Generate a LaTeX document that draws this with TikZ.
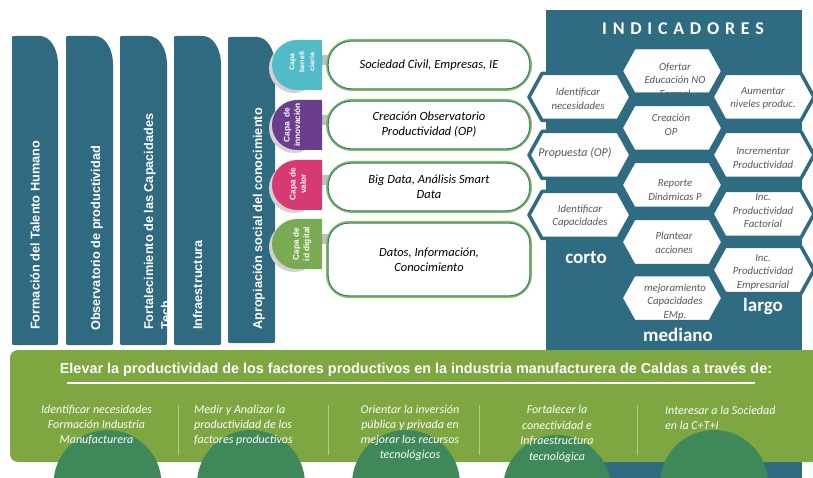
\documentclass[tikz,border=0pt]{standalone}
\usepackage{fontspec}
\setmainfont{Carlito}
\newfontfamily\arialf{Liberation Sans}
\newfontfamily\spacedf{Carlito}[LetterSpace=32]
\usetikzlibrary{calc}
\definecolor{pil}{RGB}{47,106,128}
\definecolor{pan}{RGB}{47,108,130}
\definecolor{grn}{RGB}{126,167,66}
\definecolor{dome}{RGB}{62,136,89}
\definecolor{tcyan}{RGB}{82,187,200}
\definecolor{tpurp}{RGB}{106,62,140}
\definecolor{tpink}{RGB}{215,58,115}
\definecolor{tgrn}{RGB}{122,170,82}
\definecolor{bgrn}{RGB}{141,186,72}
\definecolor{bblue}{RGB}{46,122,150}
\definecolor{hext}{RGB}{88,88,88}
\definecolor{sepc}{RGB}{178,206,132}
\newcommand\pillarshape[4]{\fill[pil] (#1,{#4-4}) -- (#1,{#3+4}) .. controls (#1,#3) .. ({#1+4},#3) -- ({#2-18},#3) .. controls ({#2-8},#3) and (#2,{#3+13}) .. (#2,{#3+28}) -- (#2,{#4-4}) .. controls (#2,#4) .. ({#2-4},#4) -- ({#1+4},#4) .. controls (#1,#4) .. (#1,{#4-4}) -- cycle;}
\newcommand\hexpath[3]{\path[#3] ({#1-51},#2) -- ({#1-38},{#2-23.5}) -- ({#1+38},{#2-23.5}) -- ({#1+51},#2) -- ({#1+38},{#2+23.5}) -- ({#1-38},{#2+23.5}) -- cycle;}
\newcommand\captab[2]{%
  \fill[gray!35] (294,{#2+28}) circle[radius=25pt];
  \fill[gray!50] (318,{#2+15}) rectangle (331,{#2+25});
  \fill[#1] (322,#2) -- (297,#2) arc[start angle=90,end angle=270,radius=25pt] -- (322,{#2+50}) -- cycle;}
\begin{document}
\begin{tikzpicture}[x=1pt,y=-1pt,
  pilltxt/.style={rotate=90, anchor=base west, inner sep=0, text=white, font=\arialf\bfseries\fontsize{12.7}{15}\selectfont},
  tabtxt/.style={rotate=90, text=white, align=center, inner sep=0, font=\arialf\bfseries\fontsize{8.3}{10.5}\selectfont},
  boxs/.style={draw=bgrn, line width=2pt, fill=white, rounded corners=25pt, minimum width=204pt, minimum height=50pt, align=center, inner sep=0, font=\itshape\fontsize{12.5}{15}\selectfont},
  hexs/.style={fill=white, draw=pan, line width=3.5pt, line join=round},
  hexline/.style={draw=pan, line width=3.5pt, line join=round},
  hextxt/.style={text=hext, align=center, inner sep=0, font=\itshape\fontsize{10.8}{13.5}\selectfont},
  lvl/.style={text=white, inner sep=0, font=\bfseries\fontsize{19}{22}\selectfont},
  btxt/.style={text=white, inner sep=0, font=\itshape\fontsize{12}{15}\selectfont}]
\useasboundingbox (0,0) rectangle (813,478);
\fill[white] (0,0) rectangle (813,478);
% indicators panel
\fill[pan] (546,10) rectangle (802,478);
\node[text=white, inner sep=0, font=\spacedf\bfseries\fontsize{18}{20}\selectfont] (ind) at (683,29) {INDICADORES};
% pillars
\pillarshape{12}{58}{36}{345}
\pillarshape{66}{113}{36}{345}
\pillarshape{120}{167}{36}{345}
\pillarshape{174}{221}{36}{345}
\pillarshape{228}{275}{37}{343}
\node[pilltxt] (p1) at (39.5,330) {Formación del Talento Humano};
\node[pilltxt] (p2) at (100,331) {Observatorio de productividad};
\node[pilltxt] (p3a) at (153,330) {Fortalecimiento de las Capacidades};
\node[pilltxt] (p3b) at (170,330) {Tech};
\node[pilltxt] (p4) at (202,330) {Infraestructura};
\node[pilltxt] (p5) at (262,330) {Apropiación social del conocimiento};
% capa tabs
\captab{tcyan}{40}
\captab{tpurp}{100}
\captab{tpink}{160}
\captab{tgrn}{219}
\node[tabtxt, font=\arialf\bfseries\fontsize{7}{10}\selectfont] (t1) at (302,62) {Capa\\benefi\\ciaria};
\node[tabtxt] (t2) at (292,125) {Capa\enspace de\\innovación};
\node[tabtxt] (t3) at (298,184) {Capa de\\valor};
\node[tabtxt] (t4) at (302,244) {Capa de\\id digital};
% boxes
\node[boxs] (b1) at (429,65) {Sociedad Civil, Empresas, IE};
\node[boxs] (b2) at (429,125) {Creación Observatorio\\Productividad (OP)};
\node[boxs] (b3) at (429,187) {Big Data, Análisis Smart\\Data};
\node[boxs, rounded corners=22pt, minimum height=75pt] (b4) at (429,259.5) {Datos, Información,\\Conocimiento};
\foreach \b in {b1,b2,b3}{
  \draw[bblue, line width=1pt, rounded corners=23pt] ($(\b.north west)+(2.2,2.2)$) rectangle ($(\b.south east)+(-2.2,-2.2)$);}
\draw[bblue, line width=1pt, rounded corners=20pt] ($(b4.north west)+(2.2,2.2)$) rectangle ($(b4.south east)+(-2.2,-2.2)$);
% hexagons
\hexpath{580}{97}{hexs}
\hexpath{580}{155}{hexs}
\hexpath{580}{215}{hexs}
\hexpath{672}{71}{hexs}
\hexpath{672}{128}{hexs}
\hexpath{672}{185}{hexs}
\hexpath{672}{242}{hexs}
\hexpath{672}{298}{hexs}
\hexpath{763}{97}{hexs}
\hexpath{763}{155}{hexs}
\hexpath{763}{214}{hexs}
\hexpath{763}{270}{hexs}
\node[hextxt] (h1) at (578,99) {Identificar\\necesidades};
\node[hextxt, font=\itshape\fontsize{12}{14}\selectfont] (h2) at (575,153) {Propuesta (OP)};
\node[hextxt] (h3) at (580,216) {Identificar\\Capacidades};
\node[hextxt] (h4) at (675,80) {Ofertar\\Educación NO\\Formal};
\node[hextxt] (h5) at (671,125) {Creación\\OP};
\node[hextxt] (h6) at (675,190) {Reporte\\Dinámicas P};
\node[hextxt] (h7) at (674,243) {Plantear\\acciones};
\node[hextxt] (h8) at (675,302) {mejoramiento\\Capacidades\\EMp.};
\node[hextxt] (h9) at (763,98.5) {Aumentar\\niveles produc.};
\node[hextxt] (h10) at (763,158) {Incrementar\\Productividad};
\node[hextxt] (h11) at (763,211) {Inc.\\Productividad\\Factorial};
\node[hextxt] (h12) at (763,272) {Inc.\\Productividad\\Empresarial};
\hexpath{672}{71}{hexline}
\node[lvl] (corto) at (586,258) {corto};
\node[lvl] (mediano) at (678,335) {mediano};
\node[lvl] (largo) at (763,306) {largo};
% green panel
\fill[grn, rounded corners=8pt] (10,350) rectangle (820,462);
\foreach \cx/\cy in {107.5/484, 251/484, 406/484, 557/489, 714/484}{
  \fill[dome] (\cx,\cy) circle[radius=54pt];}
\node[text=white, inner sep=0, font=\arialf\bfseries\fontsize{14.4}{17}\selectfont] (title) at (416,370) {Elevar la productividad de los factores productivos en la industria manufacturera de Caldas a través de:};
\draw[white, line width=1.2pt] (67,383) -- (755,383);
\foreach \sx in {178,328,479,637}{
  \draw[sepc, line width=0.8pt] (\sx,405) -- (\sx,455);}
\node[btxt, align=center] (c1) at (96.5,425) {Identificar necesidades\\Formación Industria\\Manufacturera};
\node[btxt, align=left, anchor=west] (c2) at (194,425) {Medir y Analizar la\\productividad de los\\factores productivos};
\node[btxt, align=center] (c3) at (410,433) {Orientar la inversión\\pública y privada en\\mejorar los recursos\\tecnológicos};
\node[btxt, align=center, font=\itshape\fontsize{12}{15.5}\selectfont] (c4) at (557,434) {Fortalecer la\\conectividad e\\Infraestructura\\tecnológica};
\node[btxt, align=left, anchor=west] (c5) at (665,418) {Interesar a la Sociedad\\en la C+T+I};
\end{tikzpicture}
\end{document}
